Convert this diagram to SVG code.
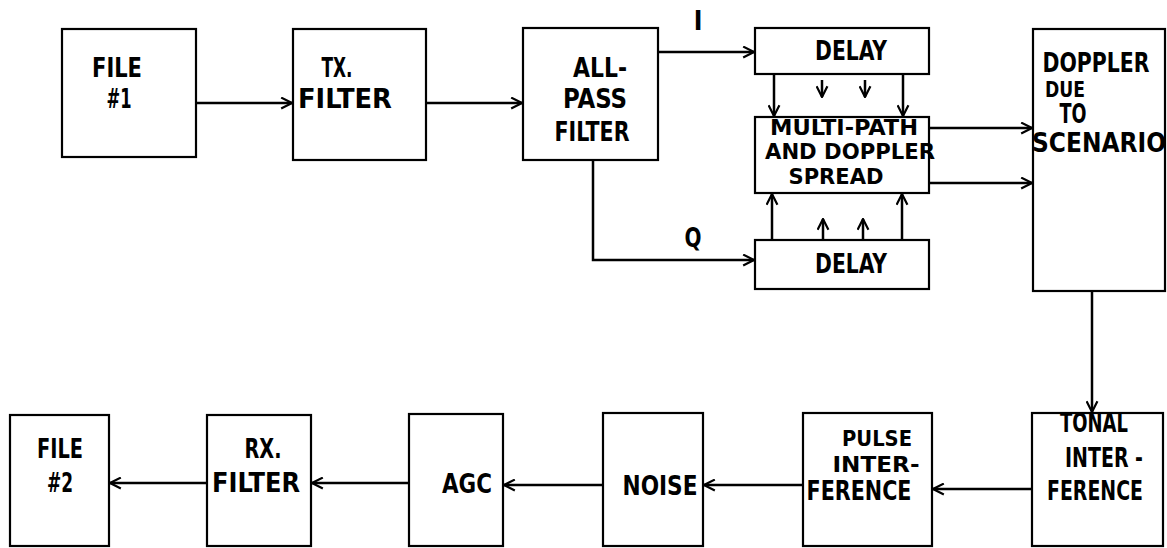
<svg xmlns="http://www.w3.org/2000/svg" width="1167" height="548" viewBox="0 0 1167 548">
<defs>
<marker id="ah" viewBox="0 0 12 12" refX="11" refY="6" markerWidth="13" markerHeight="13" markerUnits="userSpaceOnUse" orient="auto">
<path d="M1,1 L11,6 L1,11" fill="none" stroke="#000" stroke-width="2"/>
</marker>
</defs>
<style>
.box{fill:#fff;stroke:#000;stroke-width:2.2}
.t{font-family:"DejaVu Sans Condensed","Liberation Sans Narrow",sans-serif;font-size:26px;font-weight:bold;fill:#000;text-anchor:middle}
.s{font-size:21px}
.m{font-size:22px}
.c{fill:none;stroke:#000;stroke-width:2.5;marker-end:url(#ah)}
</style>
<rect width="1167" height="548" fill="#fff"/>
<g id="connectors">
<path class="c" d="M196,103 H292"/>
<path class="c" d="M426,103 H522"/>
<path class="c" d="M658,52 H754"/>
<path class="c" d="M593,160 V260 H754"/>
<path class="c" d="M774,74 V116"/>
<path class="c" d="M903,74 V116"/>
<path class="c" d="M822,80 V97"/>
<path class="c" d="M865,80 V97"/>
<path class="c" d="M772,240 V194"/>
<path class="c" d="M902,240 V194"/>
<path class="c" d="M823,240 V219"/>
<path class="c" d="M863,240 V219"/>
<path class="c" d="M929,128 H1032"/>
<path class="c" d="M929,183 H1032"/>
<path class="c" d="M1092,291 V412"/>
<path class="c" d="M1032,489 H933"/>
<path class="c" d="M803,485 H704"/>
<path class="c" d="M603,485 H504"/>
<path class="c" d="M409,483 H312"/>
<path class="c" d="M207,483 H110"/>
<text class="t" x="698" y="30">I</text>
<text class="t" x="693" y="247" textLength="17" lengthAdjust="spacingAndGlyphs">Q</text>
</g>
<g id="file1">
<rect class="box" x="62" y="29" width="134" height="128"/>
<text class="t" x="117" y="77" textLength="50" lengthAdjust="spacingAndGlyphs">FILE</text>
<text class="t" x="119" y="108" textLength="25" lengthAdjust="spacingAndGlyphs">#1</text>
</g>
<g id="txfilter">
<rect class="box" x="293" y="29" width="133" height="131"/>
<text class="t" x="337" y="77" textLength="31" lengthAdjust="spacingAndGlyphs">TX.</text>
<text class="t" x="345" y="108" textLength="94" lengthAdjust="spacingAndGlyphs">FILTER</text>
</g>
<g id="allpass">
<rect class="box" x="523" y="28" width="135" height="132"/>
<text class="t" x="600" y="77" textLength="54" lengthAdjust="spacingAndGlyphs">ALL-</text>
<text class="t" x="595" y="108" textLength="64" lengthAdjust="spacingAndGlyphs">PASS</text>
<text class="t" x="592" y="141" textLength="75" lengthAdjust="spacingAndGlyphs">FILTER</text>
</g>
<g id="delay-i">
<rect class="box" x="755" y="28" width="174" height="46"/>
<text class="t" x="851" y="60" textLength="72" lengthAdjust="spacingAndGlyphs">DELAY</text>
</g>
<g id="multipath">
<rect class="box" x="755" y="117" width="174" height="76"/>
<text class="t s" x="844" y="135" textLength="148" lengthAdjust="spacingAndGlyphs">MULTI-PATH</text>
<text class="t s" x="850" y="159" textLength="170" lengthAdjust="spacingAndGlyphs">AND DOPPLER</text>
<text class="t s" x="836" y="184" textLength="95" lengthAdjust="spacingAndGlyphs">SPREAD</text>
</g>
<g id="delay-q">
<rect class="box" x="755" y="240" width="174" height="49"/>
<text class="t" x="851" y="273" textLength="72" lengthAdjust="spacingAndGlyphs">DELAY</text>
</g>
<g id="doppler">
<rect class="box" x="1033" y="29" width="132" height="262"/>
<text class="t" x="1096" y="72" textLength="107" lengthAdjust="spacingAndGlyphs">DOPPLER</text>
<text class="t m" x="1065" y="97" textLength="40" lengthAdjust="spacingAndGlyphs">DUE</text>
<text class="t" x="1073" y="123" textLength="27" lengthAdjust="spacingAndGlyphs">TO</text>
<text class="t" x="1099" y="152" textLength="134" lengthAdjust="spacingAndGlyphs">SCENARIO</text>
</g>
<g id="tonal">
<rect class="box" x="1032" y="413" width="131" height="133"/>
<text class="t" x="1094" y="432" textLength="68" lengthAdjust="spacingAndGlyphs">TONAL</text>
<text class="t" x="1104" y="467" textLength="78" lengthAdjust="spacingAndGlyphs">INTER -</text>
<text class="t" x="1095" y="500" textLength="96" lengthAdjust="spacingAndGlyphs">FERENCE</text>
</g>
<g id="pulse">
<rect class="box" x="803" y="413" width="129" height="133"/>
<text class="t m" x="877" y="446" textLength="70" lengthAdjust="spacingAndGlyphs">PULSE</text>
<text class="t m" x="876" y="472" textLength="87" lengthAdjust="spacingAndGlyphs">INTER-</text>
<text class="t" x="859" y="500" textLength="105" lengthAdjust="spacingAndGlyphs">FERENCE</text>
</g>
<g id="noise">
<rect class="box" x="603" y="413" width="100" height="133"/>
<text class="t" x="660" y="495" textLength="75" lengthAdjust="spacingAndGlyphs">NOISE</text>
</g>
<g id="agc">
<rect class="box" x="409" y="414" width="94" height="132"/>
<text class="t" x="467" y="493" textLength="50" lengthAdjust="spacingAndGlyphs">AGC</text>
</g>
<g id="rxfilter">
<rect class="box" x="207" y="415" width="104" height="131"/>
<text class="t" x="263" y="458" textLength="37" lengthAdjust="spacingAndGlyphs">RX.</text>
<text class="t" x="256" y="492" textLength="88" lengthAdjust="spacingAndGlyphs">FILTER</text>
</g>
<g id="file2">
<rect class="box" x="10" y="415" width="99" height="131"/>
<text class="t" x="60" y="458" textLength="46" lengthAdjust="spacingAndGlyphs">FILE</text>
<text class="t" x="60" y="492" textLength="26" lengthAdjust="spacingAndGlyphs">#2</text>
</g>
</svg>
